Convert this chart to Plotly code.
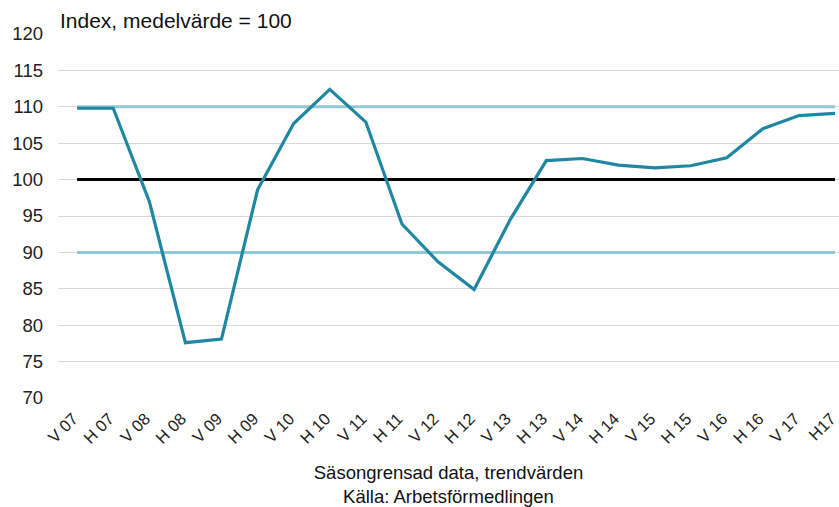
import plotly.graph_objects as go

categories = ["V 07", "H 07", "V 08", "H 08", "V 09", "H 09", "V 10", "H 10", "V 11", "H 11",
              "V 12", "H 12", "V 13", "H 13", "V 14", "H 14", "V 15", "H 15", "V 16", "H 16",
              "V 17", "H17"]
index_values = [109.8, 109.8, 97.0, 77.6, 78.1, 98.6, 107.7, 112.4, 107.9, 93.9,
                88.7, 84.9, 94.5, 102.6, 102.9, 102.0, 101.6, 101.9, 103.0, 107.0,
                108.8, 109.1]
upper_level = 110
mean_level = 100
lower_level = 90
y_ticks = [70, 75, 80, 85, 90, 95, 100, 105, 110, 115, 120]

FONT = "Liberation Sans, Arial, sans-serif"
n = len(categories)

fig = go.Figure()
fig.add_trace(go.Scatter(x=categories, y=[upper_level] * n, mode="lines",
                         line=dict(color="#93c9d6", width=3), hoverinfo="skip"))
fig.add_trace(go.Scatter(x=categories, y=[lower_level] * n, mode="lines",
                         line=dict(color="#93c9d6", width=3), hoverinfo="skip"))
fig.add_trace(go.Scatter(x=categories, y=[mean_level] * n, mode="lines",
                         line=dict(color="#000000", width=3), hoverinfo="skip"))
fig.add_trace(go.Scatter(x=categories, y=index_values, mode="lines",
                         line=dict(color="#1f87a1", width=3.2)))

fig.update_layout(
    width=839, height=507,
    margin=dict(l=58, r=0, t=34, b=109, autoexpand=False),
    paper_bgcolor="white", plot_bgcolor="white",
    showlegend=False,
    font=dict(family=FONT, size=18, color="#222222"),
    xaxis=dict(type="category", range=[-0.53, n - 1 + 0.11], tickangle=-45,
               showgrid=False, showline=False, ticks="",
               tickfont=dict(size=16.5, color="#222222"),
               ticklabelstandoff=7, ticklabelshift=-4,
               title=dict(text="Säsongrensad data, trendvärden<br>Källa: Arbetsförmedlingen",
                          font=dict(size=18.5, color="#111111"), standoff=20)),
    yaxis=dict(range=[70, 120], tickvals=y_ticks, showgrid=True, gridcolor="#d9d9d9",
               gridwidth=1, zeroline=False, showline=False, ticks="",
               tickfont=dict(size=18.5, color="#222222"), ticklabelstandoff=14),
    annotations=[dict(text="Index, medelvärde = 100", xref="paper", yref="paper",
                      x=0, y=1, xanchor="left", yanchor="bottom", yshift=0,
                      showarrow=False, font=dict(size=21, color="#111111"))],
)

fig.write_html("out.html", config={"displayModeBar": False},
               post_script="document.body.style.margin='0';document.body.style.overflow='hidden';")
